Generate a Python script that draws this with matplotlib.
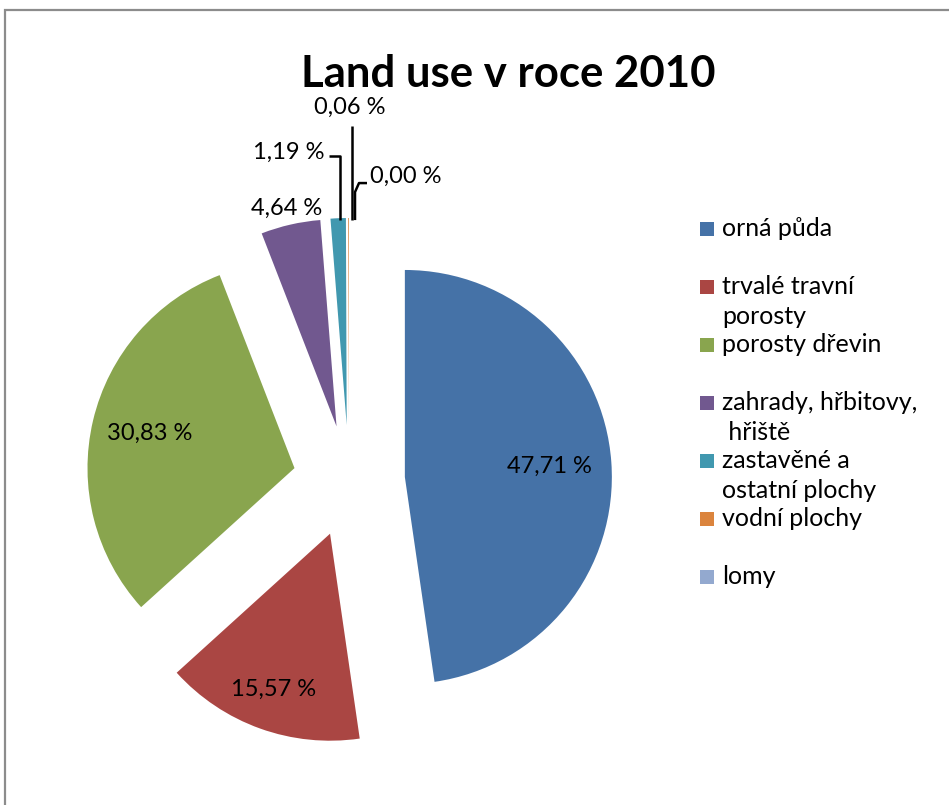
import math

import matplotlib
import matplotlib.pyplot as plt
from matplotlib.patches import Rectangle

matplotlib.use("Agg")

plt.rcParams["font.family"] = ["Lato", "DejaVu Sans"]

CATEGORIES = [
    "orná půda",
    "trvalé travní\nporosty",
    "porosty dřevin",
    "zahrady, hřbitovy,\n hřiště",
    "zastavěné a\nostatní plochy",
    "vodní plochy",
    "lomy",
]
SHARES = [47.71, 15.57, 30.83, 4.64, 1.19, 0.06, 0.00]
COLORS = ["#4572A7", "#AA4643", "#89A54E", "#71588F", "#4198AF", "#DB843D", "#93A9CF"]

W_PX, H_PX = 949, 805
CENTER = (349, H_PX - 481)
RADIUS = 207
EXPLODE = 56
LABEL_FS = 17
LEGEND_FS = 18
# how far along each slice its percentage sits (fraction of the radius)
LABEL_FRAC = [0.70, 0.80, 0.72]


def fmt(v):
    return f"{v:.2f}".replace(".", ",") + " %"


fig = plt.figure(figsize=(W_PX / 100, H_PX / 100), dpi=100)
ax = fig.add_axes([0, 0, 1, 1])

wedges, _ = ax.pie(
    SHARES,
    colors=COLORS,
    startangle=90,
    counterclock=False,
    radius=RADIUS,
    center=CENTER,
    explode=[EXPLODE] * len(SHARES),
    wedgeprops=dict(linewidth=0),
)
ax.set_xlim(0, W_PX)
ax.set_ylim(0, H_PX)
ax.set_aspect("equal")
ax.axis("off")


def wedge_point(w, frac):
    mid = math.radians((w.theta1 + w.theta2) / 2)
    cx, cy = w.center
    return cx + frac * w.r * math.cos(mid), cy + frac * w.r * math.sin(mid)


# labels inside the big slices
for w, v, f in zip(wedges[:3], SHARES[:3], LABEL_FRAC):
    x, y = wedge_point(w, f)
    ax.text(x, y, fmt(v), ha="center", va="center", fontsize=LABEL_FS)

# 4,64 % just outside
x, y = wedge_point(wedges[3], 1.08)
ax.text(x, y, fmt(SHARES[3]), ha="center", va="center", fontsize=LABEL_FS)

line_kw = dict(color="black", lw=1.8, solid_capstyle="butt")

# 1,19 % with elbow leader
ax_, ay_ = wedge_point(wedges[4], 0.99)
ax.plot([ax_ + 2, ax_ + 2, ax_ - 9], [ay_, ay_ + 64, ay_ + 64], **line_kw)
ax.text(ax_ - 14, ay_ + 68, fmt(SHARES[4]), ha="right", va="center", fontsize=LABEL_FS)

# 0,06 % straight up
bx, by = wedge_point(wedges[5], 0.99)
ax.plot([bx + 3, bx + 3], [by, by + 94], **line_kw)
ax.text(bx + 1, by + 113, fmt(SHARES[5]), ha="center", va="center", fontsize=LABEL_FS)

# 0,00 % leader to the right
cx_, cy_ = wedge_point(wedges[6], 0.99)
ax.plot([cx_ + 6, cx_ + 6, cx_ + 10, cx_ + 18],
        [cy_, cy_ + 28, cy_ + 37, cy_ + 37], **line_kw)
ax.text(cx_ + 21, cy_ + 44, fmt(SHARES[6]), ha="left", va="center", fontsize=LABEL_FS)

# title
fig.text(508 / W_PX, 1 - 74 / H_PX, "Land use v roce 2010", ha="center", va="center",
         fontsize=31.5, fontweight="bold")

# legend drawn by hand so the marker sits on the first text line
leg_y = 229
for name, col in zip(CATEGORIES, COLORS):
    ax.add_patch(Rectangle((700, H_PX - leg_y - 7), 14, 14, facecolor=col,
                           edgecolor="none"))
    for i, ln in enumerate(name.split("\n")):
        ax.text(722, H_PX - leg_y - i * 30, ln, ha="left", va="center",
                fontsize=LEGEND_FS)
    leg_y += 58

# chart frame (only top and left edges are visible in the crop)
fig.patches.append(Rectangle((5 / W_PX, -0.05), 1.2, 1 - 10 / H_PX + 0.05,
                             transform=fig.transFigure, facecolor="none",
                             edgecolor="#8c8c8c", linewidth=1.6))

fig.savefig("out.png", dpi=100, facecolor="white")
